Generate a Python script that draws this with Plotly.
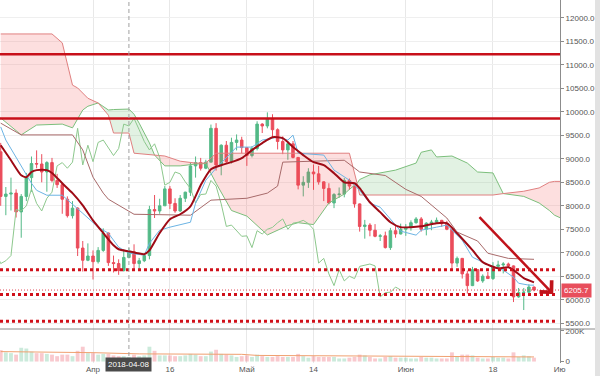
import pandas as pd
import plotly.graph_objects as go

# ---------------- data ----------------
dates = pd.date_range('2018-03-14', '2018-06-26', freq='D')
opens = [9150, 8200, 8250, 8270, 7870, 8200, 8600, 8900, 8890, 8720, 8920, 8540, 8450, 8140, 7790, 7950, 7100, 6840,
         6930, 6810, 7050, 7420, 6790, 6770, 6620, 6900, 7020, 6770, 6830, 6940, 7920, 7890, 8000, 8360, 8050, 7890, 8160, 8290, 8850, 8920, 8800, 8930, 9650, 8870, 9290, 8940, 9350, 9400,
         9240, 9070, 9220, 9740, 9700, 9860, 9620, 9370, 9190, 9320, 9030, 8440, 8500, 8720, 8680, 8510, 8370, 8060, 8240, 8250, 8540, 8420, 8040, 7560, 7590, 7480, 7350, 7360, 7110, 7470, 7400,
         7500, 7540, 7640, 7720, 7500, 7630, 7650, 7690, 7620, 7500, 6780, 6880, 6550, 6300, 6640, 6400, 6500, 6450, 6710, 6740, 6760, 6720, 6060, 6150, 6160, 6270]
highs = [9340, 8400, 8600, 8350, 8250, 8700, 9050, 9180, 9100, 8950, 9020, 8680, 8500, 8200, 8100, 7970, 7250, 7200,
         7050, 7120, 7520, 7430, 6940, 6860, 7060, 7100, 7180, 6890, 6970, 8000, 8230, 8150, 8420, 8420, 8160, 8230, 8300, 8920, 9050, 9020, 8980, 9730, 9760, 9310, 9380, 9450, 9520, 9470,
         9250, 9270, 9800, 9760, 9990, 9950, 9650, 9480, 9380, 9380, 9040, 8630, 8800, 8880, 8850, 8520, 8480, 8270, 8390, 8590, 8580, 8430, 8050, 7700, 7630, 7610, 7400, 7450, 7530, 7580, 7620,
         7610, 7690, 7760, 7760, 7650, 7700, 7750, 7700, 7680, 7510, 6920, 6890, 6620, 6700, 6650, 6540, 6590, 6800, 6830, 6800, 6790, 6730, 6250, 6250, 6330, 6280]
lows = [8000, 7800, 7900, 7750, 7320, 8100, 8300, 8800, 8500, 8300, 8500, 8380, 7830, 7750, 7730, 6930, 6600, 6820,
        6430, 6770, 7020, 6720, 6580, 6530, 6600, 6880, 6620, 6650, 6800, 6860, 7740, 7830, 8000, 7930, 7850, 7870, 8080, 8210, 8600, 8750, 8780, 8930, 8750, 8650, 8900, 8900, 9180, 9120,
        8850, 9030, 9180, 9550, 9650, 9450, 9200, 9100, 8980, 9010, 8350, 8200, 8380, 8340, 8450, 8100, 8030, 7950, 8170, 8180, 8340, 7960, 7450, 7300, 7350, 7330, 7250, 7090, 7060, 7320, 7390,
        7360, 7470, 7620, 7450, 7370, 7480, 7640, 7550, 7480, 6650, 6700, 6450, 6130, 6290, 6380, 6360, 6450, 6420, 6680, 6560, 6690, 5950, 6040, 5780, 6080, 6180]
closes = [8200, 8250, 8270, 7870, 8200, 8600, 8900, 8890, 8720, 8920, 8540, 8450, 8140, 7790, 7950, 7100, 6840, 6930,
          6810, 7050, 7420, 6790, 6770, 6620, 6900, 7020, 6770, 6830, 6940, 7920, 7890, 8000, 8360, 8050, 7890, 8160, 8290, 8850, 8920, 8800, 8930, 9650, 8870, 9290, 8940, 9350, 9400, 9240,
          9070, 9220, 9740, 9700, 9860, 9620, 9370, 9190, 9320, 9030, 8440, 8500, 8720, 8680, 8510, 8370, 8060, 8240, 8250, 8540, 8420, 8040, 7560, 7590, 7480, 7350, 7360, 7110, 7470, 7400, 7500,
          7540, 7640, 7720, 7500, 7630, 7650, 7690, 7620, 7500, 6780, 6880, 6550, 6300, 6640, 6400, 6500, 6450, 6710, 6740, 6760, 6720, 6060, 6150, 6160, 6270, 6205.7]
volumes_k = [75, 60, 55, 45, 90, 85, 65, 55, 55, 50, 45, 35, 45, 45, 35, 70, 97, 55,
             55, 45, 50, 50, 40, 35, 35, 30, 45, 35, 40, 97, 70, 40, 40, 40, 35, 35, 40, 50, 45, 35, 35, 65, 77, 50, 45, 40, 30, 35,
             40, 30, 45, 35, 30, 30, 35, 30, 30, 30, 50, 35, 25, 35, 30, 30, 30, 30, 20, 20, 25, 30, 45, 40, 30, 20, 20, 30, 35, 25, 25,
             25, 20, 20, 30, 25, 25, 20, 20, 20, 60, 35, 45, 45, 40, 25, 20, 20, 30, 25, 25, 20, 60, 30, 40, 35, 25]

vol_ma_dates = ['2018-03-14', '2018-03-25', '2018-04-01', '2018-04-10', '2018-04-20', '2018-04-30', '2018-05-03',
                '2018-05-15', '2018-06-01', '2018-06-15', '2018-06-26']
vol_ma_k = [65, 62, 58, 50, 48, 47, 40, 37, 33, 31, 30]

ma_dates = ['2018-03-14', '2018-03-16', '2018-03-18', '2018-03-19', '2018-03-20', '2018-03-21', '2018-03-23', '2018-03-24',
            '2018-03-26', '2018-03-28', '2018-03-30', '2018-04-01', '2018-04-03', '2018-04-05', '2018-04-06', '2018-04-08',
            '2018-04-11', '2018-04-12', '2018-04-14', '2018-04-16', '2018-04-18', '2018-04-20', '2018-04-22', '2018-04-24',
            '2018-04-26', '2018-04-28', '2018-04-30', '2018-05-02', '2018-05-04', '2018-05-06', '2018-05-08', '2018-05-10',
            '2018-05-12', '2018-05-14', '2018-05-16', '2018-05-18', '2018-05-20', '2018-05-22', '2018-05-23', '2018-05-25',
            '2018-05-27', '2018-05-29', '2018-05-31', '2018-06-02', '2018-06-04', '2018-06-07', '2018-06-09', '2018-06-11',
            '2018-06-14', '2018-06-16', '2018-06-19', '2018-06-21', '2018-06-22', '2018-06-24', '2018-06-26']
ma_values = [9290, 8970, 8650, 8610, 8720, 8760, 8760, 8700, 8480, 8270, 8010, 7690, 7420, 7160, 7075, 7030,
             6970, 7050, 7420, 7715, 7820, 7990, 8440, 8780, 8865, 8930, 9015, 9185, 9335, 9460, 9440, 9250,
             9080, 8930, 8865, 8695, 8500, 8480, 8375, 8075, 7865, 7650, 7545, 7545, 7565, 7630, 7630, 7415,
             7055, 6800, 6670, 6690, 6630, 6460, 6370]

tenkan_dates = ['2018-03-14', '2018-03-15', '2018-03-20', '2018-03-21', '2018-03-23', '2018-03-26', '2018-03-30', '2018-04-02',
                '2018-04-04', '2018-04-06', '2018-04-08', '2018-04-11', '2018-04-12', '2018-04-14', '2018-04-16', '2018-04-18',
                '2018-04-20', '2018-04-21', '2018-04-23', '2018-04-25', '2018-04-29', '2018-05-02', '2018-05-04', '2018-05-07',
                '2018-05-09', '2018-05-10', '2018-05-11', '2018-05-16', '2018-05-18', '2018-05-21', '2018-05-23', '2018-05-25',
                '2018-05-27', '2018-05-30', '2018-05-31', '2018-06-03', '2018-06-04', '2018-06-07', '2018-06-09', '2018-06-12',
                '2018-06-14', '2018-06-16', '2018-06-18', '2018-06-20', '2018-06-22', '2018-06-23', '2018-06-25', '2018-06-26']
tenkan_values = [9680, 9400, 8480, 8330, 8225, 8225, 7840, 7545, 7415, 7120, 6990, 6950, 7200, 7480, 7545, 7590,
                 7650, 8055, 8545, 8800, 9250, 9250, 9400, 9460, 9400, 9505, 9120, 9080, 8760, 8545, 8330, 8055,
                 7970, 7590, 7460, 7375, 7480, 7545, 7590, 7265, 6905, 6800, 6690, 6630, 6480, 6350, 6310, 6310]

kijun_dates = ['2018-03-14', '2018-03-18', '2018-03-28', '2018-03-30', '2018-04-01', '2018-04-03', '2018-04-04', '2018-04-07',
               '2018-04-09', '2018-04-20', '2018-04-24', '2018-05-01', '2018-05-05', '2018-05-07', '2018-05-08', '2018-05-14',
               '2018-05-20', '2018-05-23', '2018-05-28', '2018-06-01', '2018-06-04', '2018-06-09', '2018-06-11', '2018-06-15',
               '2018-06-17', '2018-06-21', '2018-06-26']
kijun_values = [9760, 9510, 9510, 9190, 8610, 8270, 8140, 7950, 7820, 7800, 8120, 8160, 8270, 8420, 8930, 8950,
                8970, 8720, 8645, 8350, 8200, 7740, 7440, 7250, 6990, 6880, 6860]

cloud_dates = ['2018-03-14', '2018-03-18', '2018-03-21', '2018-03-24', '2018-03-26', '2018-03-28', '2018-03-29', '2018-03-30',
               '2018-03-31', '2018-04-02', '2018-04-04', '2018-04-05', '2018-04-08', '2018-04-09', '2018-04-10', '2018-04-12',
               '2018-04-13', '2018-04-15', '2018-04-18', '2018-04-21', '2018-04-23', '2018-04-25', '2018-04-28', '2018-05-01',
               '2018-05-05', '2018-05-09', '2018-05-11', '2018-05-14', '2018-05-17', '2018-05-20', '2018-05-21', '2018-05-22 12:00',
               '2018-05-23', '2018-05-25', '2018-05-30', '2018-06-03', '2018-06-04', '2018-06-06', '2018-06-07', '2018-06-10',
               '2018-06-13', '2018-06-15', '2018-06-18', '2018-06-20', '2018-06-24', '2018-06-27', '2018-06-29', '2018-06-30',
               '2018-07-02']
span_a = [9870, 9510, 9720, 9730, 9740, 9660, 9850, 10040, 10120, 10190, 10040, 10050, 10060, 9950, 9760, 9340,
          9080, 8850, 8850, 8890, 8900, 8480, 7900, 7780, 7380, 7580, 7640, 7600, 8060, 8250, 8350, 8480,
          8560, 8660, 8760, 8910, 9140, 9190, 9040, 9060, 8910, 8720, 8700, 8260, 8200, 8060, 7900, 7800, 7700]
span_b = [11660, 11660, 11660, 11660, 11470, 10570, 10510, 10400, 10290, 10190, 9930, 9550, 9550, 9120, 9110, 9090,
          9080, 9060, 8950, 8910, 8910, 9120, 9120, 9120, 9120, 9120, 9120, 9120, 9120, 9120, 9120, 8480,
          8230, 8230, 8230, 8230, 8230, 8230, 8230, 8230, 8230, 8230, 8230, 8260, 8310, 8380, 8500, 8520, 8520]

chikou_shift_days = 26
resistance_levels = [11230, 9860]
support_levels = [6640, 6110, 5540]
last_price = closes[-1]
arrow_start = ('2018-06-15 02:00', 7790)
arrow_end = ('2018-06-29 18:00', 6120)
crosshair_date = '2018-04-08'

tick_dates = ['2018-04-01', '2018-04-16', '2018-05-01', '2018-05-14', '2018-06-01', '2018-06-18', '2018-07-01']
tick_text = ['Апр', '16', 'Май', '14', 'Июн', '18', 'Ию']

# ---------------- styles ----------------
UP = '#53b987'
DOWN = '#eb4d5c'
FONT = 'Liberation Sans'
FS = 8
X_RANGE = ['2018-03-13 20:40', '2018-07-01 01:40']
PRICE_RANGE = [5376, 12383]
VOL_RANGE = [-9.7, 213]
SPLIT = 34 / 363.0

fig = go.Figure()

# cloud fills split where the spans meet
idx = [0] + [i for i in range(1, len(cloud_dates) - 1) if span_a[i] == span_b[i]] + [len(cloud_dates) - 1]
for s, e in zip(idx[:-1], idx[1:]):
    seg = slice(s, e + 1)
    diff = sum(a - b for a, b in zip(span_a[seg], span_b[seg]))
    col = 'rgba(76,175,80,0.16)' if diff > 0 else 'rgba(244,80,80,0.18)'
    fig.add_trace(go.Scatter(x=cloud_dates[seg], y=span_b[seg], mode='lines', line=dict(width=0),
                             hoverinfo='skip', showlegend=False))
    fig.add_trace(go.Scatter(x=cloud_dates[seg], y=span_a[seg], mode='lines', line=dict(width=0),
                             fill='tonexty', fillcolor=col, hoverinfo='skip', showlegend=False))

fig.add_trace(go.Scatter(x=cloud_dates, y=span_a, mode='lines', line=dict(color='#7cbf7c', width=1), showlegend=False))
fig.add_trace(go.Scatter(x=cloud_dates, y=span_b, mode='lines', line=dict(color='#e08080', width=1), showlegend=False))

chikou_x = dates - pd.Timedelta(days=chikou_shift_days)
fig.add_trace(go.Scatter(x=chikou_x, y=closes, mode='lines', line=dict(color='#8dc88d', width=1), showlegend=False))
fig.add_trace(go.Scatter(x=kijun_dates, y=kijun_values, mode='lines', line=dict(color='#a86a6a', width=1), showlegend=False))

# levels
for lv in resistance_levels:
    fig.add_shape(type='line', xref='x', yref='y', x0=X_RANGE[0], x1=X_RANGE[1], y0=lv, y1=lv,
                  line=dict(color='#c8101a', width=2.5))
for lv in support_levels:
    fig.add_shape(type='line', xref='x', yref='y', x0=X_RANGE[0], x1='2018-06-30 06:00', y0=lv, y1=lv,
                  line=dict(color='#d0101a', width=3, dash='3px,3px'))
fig.add_shape(type='line', xref='x', yref='y', x0=X_RANGE[0], x1=X_RANGE[1], y0=last_price, y1=last_price,
              line=dict(color='#e04050', width=1, dash='1px,2px'))

fig.add_trace(go.Candlestick(x=dates, open=opens, high=highs, low=lows, close=closes,
                             increasing=dict(line=dict(color=UP, width=1), fillcolor=UP),
                             decreasing=dict(line=dict(color=DOWN, width=1), fillcolor=DOWN),
                             whiskerwidth=0, showlegend=False, xaxis='x', yaxis='y'))

fig.add_trace(go.Scatter(x=tenkan_dates, y=tenkan_values, mode='lines', line=dict(color='#6cb4e4', width=1), showlegend=False))
fig.add_trace(go.Scatter(x=ma_dates, y=ma_values, mode='lines', line=dict(color='#9e0b16', width=2, shape='spline', smoothing=0.6), showlegend=False))

# volume
vol_colors = ['rgba(83,185,135,0.3)' if c >= o else 'rgba(235,77,92,0.3)' for o, c in zip(opens, closes)]
fig.add_trace(go.Bar(x=dates, y=volumes_k, marker=dict(color=vol_colors, line=dict(width=0)), yaxis='y2', showlegend=False))
fig.add_trace(go.Scatter(x=vol_ma_dates, y=vol_ma_k, mode='lines', line=dict(color='#f0a070', width=1), yaxis='y2', showlegend=False))

# arrow
fig.add_annotation(x=arrow_end[0], y=arrow_end[1], ax=arrow_start[0], ay=arrow_start[1], xref='x', yref='y',
                   axref='x', ayref='y', text='', showarrow=True, arrowhead=4, arrowsize=1.3, arrowwidth=2.5,
                   arrowcolor='#c0131b')

# crosshair
fig.add_shape(type='line', xref='x', yref='paper', x0=crosshair_date, x1=crosshair_date, y0=0, y1=1,
              line=dict(color='#a0a0a0', width=1, dash='4px,3px'))
fig.add_annotation(x=crosshair_date, xref='x', y=-0.0235, yref='paper', text='2018-04-08', showarrow=False,
                   bgcolor='#4a4a4a', font=dict(color='white', size=FS, family=FONT), borderpad=2)
# price label
fig.add_annotation(x=1, xref='paper', xanchor='left', xshift=1, y=last_price, yref='y', text='6205.7',
                   showarrow=False, bgcolor='#e84e5c', font=dict(color='white', size=FS, family=FONT), borderpad=2)

# separator and right strip
fig.add_shape(type='line', xref='paper', yref='paper', x0=0, x1=595 / 560, y0=SPLIT, y1=SPLIT,
              line=dict(color='#8a8a8a', width=1))
fig.add_shape(type='rect', xref='paper', yref='paper', x0=595 / 560, x1=600 / 560, y0=-0.05, y1=1.0,
              line=dict(width=0), fillcolor='#e2e2e2')

axis_font = dict(size=FS, color='#555555', family=FONT)
fig.update_layout(
    width=600, height=376, margin=dict(l=0, r=40, t=0, b=13),
    paper_bgcolor='white', plot_bgcolor='white', showlegend=False,
    font=dict(family=FONT, size=FS, color='#555555'),
    bargap=0.25,
    xaxis=dict(type='date', range=X_RANGE, anchor='y2', tickvals=tick_dates, ticktext=tick_text,
               showgrid=True, gridcolor='#e8e8e8', zeroline=False, showline=False, ticks='',
               rangeslider=dict(visible=False), tickfont=axis_font, automargin=False),
    yaxis=dict(domain=[SPLIT, 1], range=PRICE_RANGE, side='right', anchor='x', dtick=500, tick0=0,
               tickformat='.1f', showgrid=True, gridcolor='#efefef', zeroline=False, showline=True,
               linecolor='#8c8c8c', ticks='outside', ticklen=3, tickcolor='#8c8c8c',
               tickfont=axis_font, automargin=False),
    yaxis2=dict(domain=[0, SPLIT], range=VOL_RANGE, side='right', anchor='x', tickvals=[0, 200],
                ticktext=['0', '200K'], showgrid=False, zeroline=False, showline=True, linecolor='#8c8c8c',
                ticks='outside', ticklen=3, tickcolor='#8c8c8c', tickfont=axis_font, automargin=False),
)

fig.write_html('out.html', config={'displayModeBar': False},
               post_script="document.body.style.margin='0';document.body.style.overflow='hidden';")
